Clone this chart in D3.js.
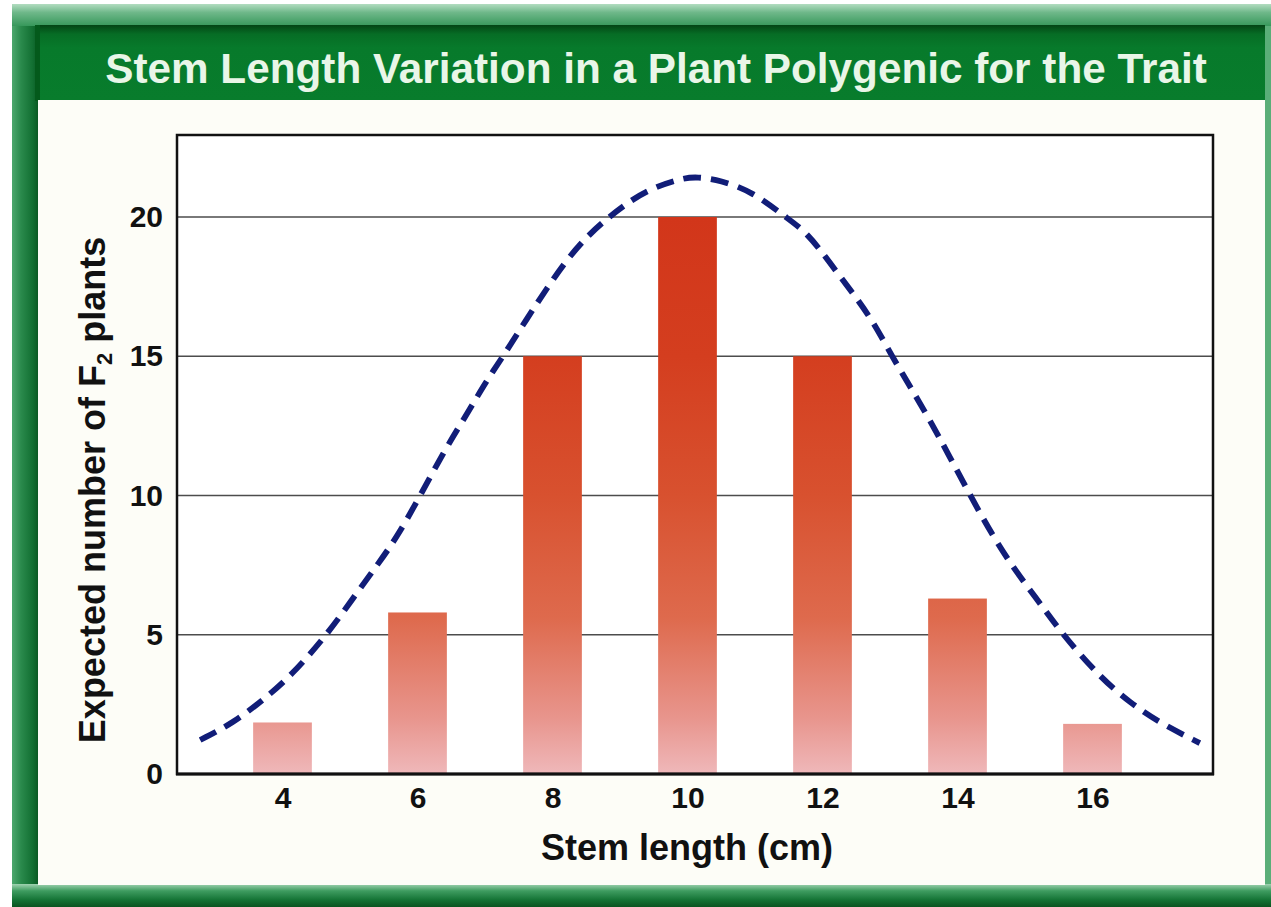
<!DOCTYPE html>
<html>
<head>
<meta charset="utf-8">
<script src="https://cdn.jsdelivr.net/npm/d3@7"></script>
<style>
  html, body { margin: 0; padding: 0; background: #ffffff; }
  svg { display: block; }
  text { font-family: "Liberation Sans", Arial, Helvetica, sans-serif; font-weight: bold; }
</style>
</head>
<body>
<svg id="chart" width="1271" height="907"></svg>
<script>
// Stem length classes (cm) and the expected number of F2 plants in each
const stemLengths = [4, 6, 8, 10, 12, 14, 16];
const plantCounts = [1.85, 5.8, 15, 20, 15, 6.3, 1.8];

// Tick labels
const xTicks = [4, 6, 8, 10, 12, 14, 16];
const yTicks = [0, 5, 10, 15, 20];
const gridValues = [5, 10, 15, 20];

// Dashed continuous-distribution curve traced over the bars
const curveX = [2.78, 3.27, 3.71, 4.11, 4.66, 5.04, 5.44, 5.72, 6.04, 6.42, 6.74, 7.03, 7.27, 7.62, 7.92, 8.22, 8.55, 8.84, 9.05, 9.42, 9.93, 10.14,
                10.48, 10.97, 11.45, 11.77, 12.11, 12.45, 12.75, 13.03, 13.30, 13.59, 13.86, 14.19, 14.53, 14.88, 15.22, 15.56, 16.11, 16.56, 17.0, 17.59];
const curveY = [1.22, 1.83, 2.66, 3.48, 5.0, 6.3, 7.62, 8.6, 10.0, 11.7, 12.95, 14.15, 15.0, 16.35, 17.45, 18.5, 19.4, 20.0, 20.4, 21.0, 21.4, 21.44,
                21.33, 20.9, 20.0, 19.45, 18.35, 17.27, 16.25, 15.0, 13.9, 12.71, 11.5, 10.0, 8.51, 7.22, 6.14, 5.0, 3.48, 2.55, 1.83, 1.11];

const titleText = "Stem Length Variation in a Plant Polygenic for the Trait";
const xLabel = "Stem length (cm)";

const svg = d3.select("#chart");
const defs = svg.append("defs");

// ---------- frame ----------
function vGrad(id, stops) {
  const g = defs.append("linearGradient").attr("id", id)
    .attr("x1", 0).attr("y1", 0).attr("x2", 0).attr("y2", 1);
  stops.forEach(([o, c]) => g.append("stop").attr("offset", o).attr("stop-color", c));
}
function hGrad(id, stops) {
  const g = defs.append("linearGradient").attr("id", id)
    .attr("x1", 0).attr("y1", 0).attr("x2", 1).attr("y2", 0);
  stops.forEach(([o, c]) => g.append("stop").attr("offset", o).attr("stop-color", c));
}
vGrad("topBand", [[0, "#b2dcc0"], [0.35, "#6fb88a"], [1, "#2f9354"]]);
vGrad("bottomBand", [[0, "#9fd2b0"], [0.3, "#3e9c60"], [0.7, "#137234"], [1, "#0a5420"]]);
hGrad("leftBand", [[0, "#4ca76d"], [0.35, "#2a8a4c"], [0.8, "#126f32"], [1, "#0b5a24"]]);
vGrad("titleBar", [[0, "#034515"], [0.12, "#066d25"], [0.3, "#077a2b"], [1, "#087c2c"]]);

svg.append("rect").attr("x", 12).attr("y", 4).attr("width", 1259).attr("height", 903).attr("fill", "#1f7f3f");
svg.append("rect").attr("x", 12).attr("y", 4).attr("width", 1259).attr("height", 24).attr("fill", "url(#topBand)");
svg.append("rect").attr("x", 12).attr("y", 26).attr("width", 26).attr("height", 862).attr("fill", "url(#leftBand)");
svg.append("rect").attr("x", 1264).attr("y", 26).attr("width", 7).attr("height", 862).attr("fill", "#5aae78");
svg.append("rect").attr("x", 12).attr("y", 884).attr("width", 1259).attr("height", 23).attr("fill", "url(#bottomBand)");
svg.append("rect").attr("x", 35).attr("y", 25).attr("width", 1230).attr("height", 76).attr("fill", "url(#titleBar)");
svg.append("rect").attr("x", 35).attr("y", 25).attr("width", 5).attr("height", 76).attr("fill", "#045a1c");
svg.append("rect").attr("x", 38).attr("y", 100).attr("width", 1227).attr("height", 785).attr("fill", "#fdfdf7");

// ---------- title ----------
const title = svg.append("text")
  .attr("x", 656).attr("y", 83)
  .attr("text-anchor", "middle")
  .attr("font-size", 42)
  .attr("fill", "#e9f6e8")
  .text(titleText);
// fit the title across the bar
const tw = title.node().getComputedTextLength();
title.attr("font-size", 42 * 1102 / tw);

// ---------- plot area ----------
const plot = { left: 177, right: 1213, top: 135, bottom: 774 };

const x = d3.scaleLinear().domain([4, 16]).range([282.5, 1092.5]);
const y = d3.scaleLinear().domain([0, 20]).range([plot.bottom, 217]);
const barWidth = 0.87; // cm

svg.append("rect")
  .attr("x", plot.left).attr("y", plot.top)
  .attr("width", plot.right - plot.left).attr("height", plot.bottom - plot.top)
  .attr("fill", "#ffffff");

// gridlines
svg.append("g").selectAll("line").data(gridValues).join("line")
  .attr("x1", plot.left).attr("x2", plot.right)
  .attr("y1", d => y(d)).attr("y2", d => y(d))
  .attr("stroke", "#4d4d4d").attr("stroke-width", 1.6);

// bar gradient spans the value range so short bars stay pale
const bg = defs.append("linearGradient").attr("id", "barFill")
  .attr("gradientUnits", "userSpaceOnUse")
  .attr("x1", 0).attr("x2", 0).attr("y1", y(20)).attr("y2", y(0));
[[0, "#d2361a"], [0.25, "#d43e1f"], [0.5, "#d8512f"], [0.72, "#de6a4d"], [0.9, "#e8958d"], [1, "#efb8ba"]]
  .forEach(([o, c]) => bg.append("stop").attr("offset", o).attr("stop-color", c));

svg.append("g").selectAll("rect").data(stemLengths).join("rect")
  .attr("x", (d) => x(d - barWidth / 2))
  .attr("width", x(barWidth) - x(0))
  .attr("y", (d, i) => y(plantCounts[i]))
  .attr("height", (d, i) => y(0) - y(plantCounts[i]))
  .attr("fill", "url(#barFill)");

// dashed curve
const curvePts = curveX.map((v, i) => [v, curveY[i]]);
svg.append("path")
  .datum(curvePts)
  .attr("d", d3.line().x(d => x(d[0])).y(d => y(d[1])).curve(d3.curveBasis))
  .attr("fill", "none")
  .attr("stroke", "#111d78")
  .attr("stroke-width", 5.8)
  .attr("stroke-dasharray", "18 10");

// plot border
svg.append("rect")
  .attr("x", plot.left).attr("y", plot.top)
  .attr("width", plot.right - plot.left).attr("height", plot.bottom - plot.top)
  .attr("fill", "none").attr("stroke", "#111111").attr("stroke-width", 2.5);
svg.append("line")
  .attr("x1", plot.left - 1).attr("x2", plot.right + 1)
  .attr("y1", plot.bottom).attr("y2", plot.bottom)
  .attr("stroke", "#111111").attr("stroke-width", 3.2);

// axes
const xAxis = svg.append("g")
  .attr("transform", `translate(0,${plot.bottom})`)
  .call(d3.axisBottom(x).tickValues(xTicks).tickSize(0).tickPadding(13));
const yAxis = svg.append("g")
  .attr("transform", `translate(${plot.left},0)`)
  .call(d3.axisLeft(y).tickValues(yTicks).tickSize(0).tickPadding(14));
[xAxis, yAxis].forEach(g => {
  g.select(".domain").remove();
  g.selectAll("text")
    .attr("font-family", '"Liberation Sans", Arial, Helvetica, sans-serif')
    .attr("font-weight", "bold")
    .attr("font-size", 30)
    .attr("fill", "#111111");
});

// axis titles
svg.append("text")
  .attr("x", 687).attr("y", 860)
  .attr("text-anchor", "middle")
  .attr("font-size", 36)
  .attr("fill", "#111111")
  .text(xLabel);

const yl = svg.append("text")
  .attr("transform", "translate(105,490) rotate(-90)")
  .attr("text-anchor", "middle")
  .attr("font-size", 36)
  .attr("fill", "#111111");
yl.append("tspan").text("Expected number of F");
yl.append("tspan").attr("font-size", 22).attr("dy", 7).text("2");
yl.append("tspan").attr("dy", -7).text(" plants");
</script>
</body>
</html>
